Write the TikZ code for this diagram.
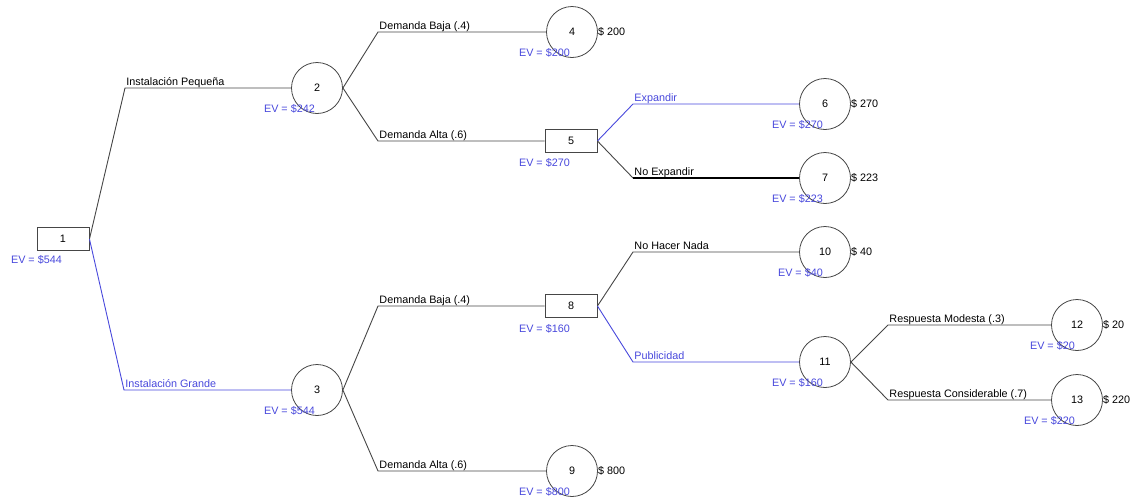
\documentclass[tikz,border=0pt]{standalone}
\usepackage{fontspec}
\setmainfont{Liberation Sans}
\definecolor{evblue}{RGB}{72,72,220}
\definecolor{edge}{RGB}{70,70,70}
\tikzset{
  txt/.style={font=\fontsize{10.8}{12}\selectfont, inner sep=0pt},
  decision/.style={draw=edge, line width=0.9pt, minimum width=52pt, minimum height=23pt, inner sep=0pt, txt},
  chance/.style={draw=edge, line width=0.8pt, circle, minimum size=51pt, inner sep=0pt, txt},
  branch/.style={draw=edge, line width=0.9pt},
  bluebranch/.style={draw=evblue, line width=0.9pt},
  lbl/.style={txt, anchor=base west, xshift=1pt, yshift=2.5pt},
  ev/.style={txt, text=evblue, anchor=base east},
  pay/.style={txt, anchor=west},
}
\begin{document}
\begin{tikzpicture}[x=1pt, y=-1pt]
\useasboundingbox (0,0) rectangle (1130,499);

% decision and chance nodes
\node[decision] (n1) at (63,239) {1};
\node[chance] (n2) at (317,88) {2};
\node[chance] (n3) at (317,390) {3};
\node[chance] (n4) at (572,32) {4};
\node[decision] (n5) at (571,141) {5};
\node[chance] (n6) at (825,104) {6};
\node[chance] (n7) at (825,178) {7};
\node[decision] (n8) at (571,306) {8};
\node[chance] (n9) at (572,471) {9};
\node[chance] (n10) at (825,252) {10};
\node[chance] (n11) at (825,362) {11};
\node[chance] (n12) at (1077,325) {12};
\node[chance] (n13) at (1077,400) {13};

% bend points of the branches
\coordinate (b1a) at (125,88);
\coordinate (b1b) at (124,390);
\coordinate (b2a) at (378,32);
\coordinate (b2b) at (378,141);
\coordinate (b3a) at (378,306);
\coordinate (b3b) at (378,471);
\coordinate (b5a) at (633,104);
\coordinate (b5b) at (633,178);
\coordinate (b8a) at (633,252);
\coordinate (b8b) at (633,362);
\coordinate (b11a) at (888,325);
\coordinate (b11b) at (888,400);

% branches
\draw[branch] (n1.east) -- (b1a) node[lbl] {Instalación Pequeña} -- (n2);
\draw[bluebranch] (n1.east) -- (b1b) node[lbl, text=evblue] {Instalación Grande} -- (n3);
\draw[branch] (n2.east) -- (b2a) node[lbl] {Demanda Baja (.4)} -- (n4);
\draw[branch] (n2.east) -- (b2b) node[lbl] {Demanda Alta (.6)} -- (n5);
\draw[bluebranch] (n5.east) -- (b5a) node[lbl, text=evblue] {Expandir} -- (n6);
\draw[branch] (n5.east) -- (b5b) node[lbl] {No Expandir} -- (n7);
\draw[draw=black, line width=1.4pt] (b5b) -- (n7);
\draw[branch] (n3.east) -- (b3a) node[lbl] {Demanda Baja (.4)} -- (n8);
\draw[branch] (n3.east) -- (b3b) node[lbl] {Demanda Alta (.6)} -- (n9);
\draw[branch] (n8.east) -- (b8a) node[lbl] {No Hacer Nada} -- (n10);
\draw[bluebranch] (n8.east) -- (b8b) node[lbl, text=evblue] {Publicidad} -- (n11);
\draw[branch] (n11.east) -- (b11a) node[lbl] {Respuesta Modesta (.3)} -- (n12);
\draw[branch] (n11.east) -- (b11b) node[lbl] {Respuesta Considerable (.7)} -- (n13);

% expected values
\node[ev] at ([shift={(-1,24)}]n1.center) {EV = \$544};
\node[ev] at ([shift={(-2,24)}]n2.center) {EV = \$242};
\node[ev] at ([shift={(-2,24)}]n3.center) {EV = \$544};
\node[ev] at ([shift={(-2,24)}]n4.center) {EV = \$200};
\node[ev] at ([shift={(-1,25)}]n5.center) {EV = \$270};
\node[ev] at ([shift={(-2,24)}]n6.center) {EV = \$270};
\node[ev] at ([shift={(-2,24)}]n7.center) {EV = \$223};
\node[ev] at ([shift={(-1,26)}]n8.center) {EV = \$160};
\node[ev] at ([shift={(-2,24)}]n9.center) {EV = \$800};
\node[ev] at ([shift={(-2,24)}]n10.center) {EV = \$40};
\node[ev] at ([shift={(-2,24)}]n11.center) {EV = \$160};
\node[ev] at ([shift={(-2,24)}]n12.center) {EV = \$20};
\node[ev] at ([shift={(-2,24)}]n13.center) {EV = \$220};

% payoffs
\node[pay] at (n4.east) {\$ 200};
\node[pay] at (n6.east) {\$ 270};
\node[pay] at (n7.east) {\$ 223};
\node[pay] at (n9.east) {\$ 800};
\node[pay] at (n10.east) {\$ 40};
\node[pay] at (n12.east) {\$ 20};
\node[pay] at (n13.east) {\$ 220};
\end{tikzpicture}
\end{document}
